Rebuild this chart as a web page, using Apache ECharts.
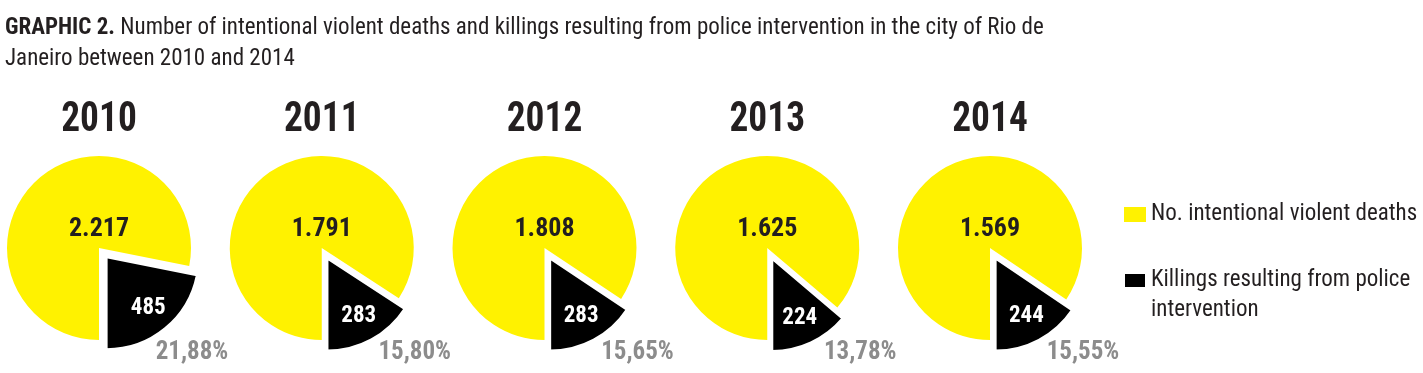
<!DOCTYPE html>
<html>
<head>
<meta charset="utf-8">
<script src="https://cdn.jsdelivr.net/npm/echarts@6/dist/echarts.min.js"></script>
<style>html,body{margin:0;padding:0;background:#fff;}#c{width:1423px;height:373px;}</style>
</head>
<body>
<div id="c"></div>
<script>
const years = ['2010', '2011', '2012', '2013', '2014'];
const deaths = [2217, 1791, 1808, 1625, 1569];
const killings = [485, 283, 283, 224, 244];
const percents = ['21,88%', '15,80%', '15,65%', '13,78%', '15,55%'];
const legendNames = ['No. intentional violent deaths', 'Killings resulting from police intervention'];
const titleBold = 'GRAPHIC 2.';
const titleText = 'Number of intentional violent deaths and killings resulting from police intervention in the city of Rio de\nJaneiro between 2010 and 2014';

const FF = "'Roboto Condensed', 'Open Sans Condensed', sans-serif";
const YELLOW = '#FFF200';
const TXT = '#231f20';
const CX0 = 99, DX = 222.75, CY = 248, R = 92;

function fmtThousands(v) {
  return String(v).replace(/\B(?=(\d{3})+(?!\d))/g, '.');
}

const series = [];
const graphics = [];
years.forEach((y, i) => {
  const cx = CX0 + i * DX;
  series.push({
    type: 'pie', center: [cx, CY], radius: R,
    clockwise: false, startAngle: 270,
    selectedMode: 'multiple', selectedOffset: 12,
    animation: false, silent: true,
    label: { show: false }, labelLine: { show: false },
    emphasis: { disabled: true },
    data: [
      { name: legendNames[1], value: killings[i], selected: true,
        itemStyle: { color: '#000', borderColor: '#fff', borderWidth: 2 } },
      { name: legendNames[0], value: deaths[i] - killings[i],
        itemStyle: { color: YELLOW },
        label: { show: true, position: 'center', offset: [0, -19],
          formatter: () => fmtThousands(deaths[i]),
          fontFamily: FF, fontWeight: 'bold', fontSize: 26, color: TXT } }
    ]
  });
  graphics.push({
    type: 'text', x: cx, y: 120, scaleX: 0.89,
    style: { text: y, textAlign: 'center', textVerticalAlign: 'middle',
      font: 'bold 42px ' + FF, fill: TXT }
  });
  graphics.push({
    type: 'text', x: cx + 93, y: CY + 105,
    style: { text: percents[i], textAlign: 'center', textVerticalAlign: 'middle',
      font: 'bold 25px ' + FF, fill: '#8c8c8c' }
  });
});
// label-only series for the killings value (placed further out in the slice)
years.forEach((y, i) => {
  const cx = CX0 + i * DX;
  series.push({
    type: 'pie', center: [cx, CY], radius: [R * 0.36, R],
    clockwise: false, startAngle: 270,
    selectedMode: 'multiple', selectedOffset: 12,
    animation: false, silent: true, legendHoverLink: false,
    emphasis: { disabled: true },
    labelLine: { show: false },
    itemStyle: { color: 'rgba(0,0,0,0)', borderWidth: 0 },
    data: [
      { name: legendNames[1], value: killings[i], selected: true,
        label: { show: true, position: 'inside', formatter: () => String(killings[i]),
          fontFamily: FF, fontWeight: 'bold', fontSize: 23, color: '#fff' } },
      { name: legendNames[0], value: deaths[i] - killings[i], label: { show: false } }
    ]
  });
});

const chart = echarts.init(document.getElementById('c'), null, { renderer: 'canvas' });
chart.setOption({
  backgroundColor: '#fff',
  animation: false,
  title: {
    left: 5, top: 13, padding: 0,
    text: '{b|' + titleBold + '} ' + titleText,
    textStyle: {
      fontFamily: FF, fontSize: 23, fontWeight: 'normal', color: TXT, lineHeight: 31,
      rich: { b: { fontFamily: FF, fontSize: 23, fontWeight: 'bold', color: TXT, lineHeight: 31 } }
    }
  },
  legend: {
    orient: 'vertical', left: 1123, top: 199.5, padding: 0,
    itemWidth: 22, itemHeight: 15, itemGap: 6,
    icon: 'rect', selectedMode: false,
    formatter: n => n === legendNames[1] ? '\nKillings resulting from police\nintervention' : n,
    textStyle: { fontFamily: FF, fontSize: 23, color: TXT, lineHeight: 30 },
    data: [
      { name: legendNames[0], itemStyle: { color: YELLOW } },
      { name: legendNames[1], itemStyle: { color: '#000' } }
    ]
  },
  graphic: graphics,
  series: series
});
</script>
</body>
</html>
